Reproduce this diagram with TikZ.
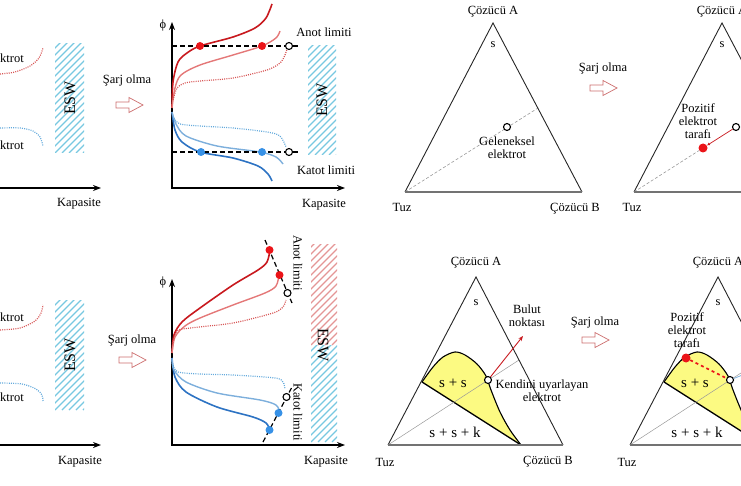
\documentclass[tikz,border=0pt]{standalone}
\usepackage{fontspec}
\setmainfont{Liberation Serif}
\usetikzlibrary{arrows.meta, positioning}

\definecolor{darkred}{RGB}{200,25,30}
\definecolor{lightred}{RGB}{228,120,120}
\definecolor{dotred}{RGB}{215,85,85}
\definecolor{darkblue}{RGB}{45,115,195}
\definecolor{lightblue}{RGB}{125,175,220}
\definecolor{dotblue}{RGB}{100,170,220}
\definecolor{hatchblue}{RGB}{120,200,225}
\definecolor{hatchred}{RGB}{228,150,150}
\definecolor{fillyellow}{RGB}{252,250,130}
\definecolor{markred}{RGB}{235,20,25}
\definecolor{markblue}{RGB}{55,145,230}
\definecolor{arrowred}{RGB}{205,110,110}

% hatched window: colour, x0, y0, x1, y1
\newcommand{\hatchbox}[5]{%
  \begin{scope}
    \clip (#2,#3) rectangle (#4,#5);
    \foreach \k in {0,7,...,420}
      \draw[#1, line width=1.1pt] (#2-210+\k,#5) -- ++(250,-250);
  \end{scope}}

\tikzset{
  lbl/.style={font=\fontsize{12.5}{13}\selectfont, inner sep=1pt, align=center},
  big/.style={font=\fontsize{15}{17}\selectfont, inner sep=1pt},
  eswlbl/.style={font=\fontsize{16}{18}\selectfont, inner sep=1pt},
  axis/.style={line width=1.6pt},
  limitline/.style={line width=1.2pt, dash pattern=on 5pt off 3pt},
  curvedark/.style={line width=1.6pt},
  curvelight/.style={line width=1.4pt},
  curvedot/.style={line width=1.2pt, dash pattern=on 1pt off 1.2pt},
  fullmark/.style={circle, minimum size=8pt, inner sep=0pt},
  openmark/.style={circle, draw, line width=1.1pt, fill=white, minimum size=7pt, inner sep=0pt},
  triside/.style={line width=0.9pt, draw=black!85},
  tribase/.style={line width=1.5pt, draw=black!55},
  mixline/.style={gray!80, line width=0.6pt, dash pattern=on 3pt off 2pt},
  sarjarrow/.pic={\draw[arrowred, line width=0.7pt, fill=white]
    (-13,-3) -- (0,-3) -- (0,-7.5) -- (14,0) -- (0,7.5) -- (0,3) -- (-13,3) -- cycle;}
}

\begin{document}
\begin{tikzpicture}[x=1pt, y=-1pt]
\useasboundingbox (0,0) rectangle (741,486);
\clip (0,0) rectangle (741,486);

% ---- upper row, potential curves ----
\draw[dotred, curvedot] plot[smooth] coordinates {(0,74) (15,72) (30,66) (39,58) (43,48)};
\draw[dotblue, curvedot] plot[smooth] coordinates {(0,128) (20,128) (33,131) (40,137) (43,146)};
\node[lbl, anchor=west] (elekA) at (-1,58) {ktrot};
\node[lbl, anchor=west] (elekB) at (-1,145) {ktrot};
\hatchbox{hatchblue}{55}{44}{84}{153}
\node[eswlbl, rotate=90] (eswA) at (70,98) {ESW};
\draw[axis, -{Stealth[length=8pt,width=6pt]}] (0,188) -- (101,188);
\node[lbl] (kapA) at (79,204) {Kapasite};

\node[lbl] (sarjA) at (127,80) {Şarj olma};
\pic at (129,105) {sarjarrow};

\draw[axis, {Stealth[length=8pt,width=6pt]}-{Stealth[length=8pt,width=6pt]}] (172,22) |- (345,188);
\node[lbl] (phiA) at (163,25) {\symbol{"03D5}};
\node[lbl] (kapB) at (324,205) {Kapasite};

\draw[darkred, curvedark] plot[smooth] coordinates {(172,108) (173,82) (178,62) (187,53) (200,46) (233,37) (255,28) (266,18) (272,4)};
\draw[lightred, curvelight] plot[smooth] coordinates {(172,108) (175,88) (181,75) (200,65) (233,55) (262,46) (276,38) (280,31)};
\draw[dotred, curvedot] plot[smooth] coordinates {(173,100) (177,88) (185,83) (200,81) (233,78) (267,70) (280,63) (285,55) (287,49)};
\draw[darkblue, curvedark] plot[smooth] coordinates {(172,112) (175,130) (182,142) (200,152) (233,158) (258,166) (268,174) (272,181)};
\draw[lightblue, curvelight] plot[smooth] coordinates {(172,112) (176,124) (186,136) (217,146) (260,152) (276,157) (283,164)};
\draw[dotblue, curvedot] plot[smooth] coordinates {(174,118) (180,124) (200,126) (233,128) (267,132) (280,136) (286,147)};

\coordinate (anotL) at (172,46);
\coordinate (katotL) at (172,152);
\node[openmark] (anotO) at (289,46) {};
\node[openmark] (katotO) at (289,152) {};
\draw[limitline] (anotL) -- (anotO) -- +(12,0);
\draw[limitline] (katotL) -- (katotO) -- +(12,0);
\node[fullmark, fill=markred] (anotR1) at (200,46) {};
\node[fullmark, fill=markred] (anotR2) at (262,46) {};
\node[fullmark, fill=markblue] (katotB1) at (201,152) {};
\node[fullmark, fill=markblue] (katotB2) at (262,152) {};
\node[lbl] (anotT) at (324,32) {Anot limiti};
\node[lbl] (katotT) at (326,170) {Katot limiti};
\hatchbox{hatchblue}{308}{46}{336}{155}
\node[eswlbl, rotate=90] (eswB) at (322,100) {ESW};

% ---- lower row, potential curves ----
\draw[dotred, curvedot] plot[smooth] coordinates {(0,330) (20,328) (35,321) (41,313) (43,305)};
\draw[dotblue, curvedot] plot[smooth] coordinates {(0,383) (22,384) (36,389) (42,395) (43,401)};
\node[lbl, anchor=west] (elekC) at (-1,317) {ktrot};
\node[lbl, anchor=west] (elekD) at (-1,397) {ktrot};
\hatchbox{hatchblue}{55}{300}{84}{410}
\node[eswlbl, rotate=90] (eswC) at (70,355) {ESW};
\draw[axis, -{Stealth[length=8pt,width=6pt]}] (0,445) -- (101,445);
\node[lbl] (kapC) at (80,462) {Kapasite};

\node[lbl] (sarjB) at (132,340) {Şarj olma};
\pic at (132,360) {sarjarrow};

\draw[axis, {Stealth[length=8pt,width=6pt]}-{Stealth[length=8pt,width=6pt]}] (172,279) |- (345,445);
\node[lbl] (phiB) at (163,282) {\symbol{"03D5}};
\node[lbl] (kapD) at (326,462) {Kapasite};

\draw[darkred, curvedark] plot[smooth] coordinates {(172,353) (174,335) (182,322) (200,308) (233,285) (258,270) (267,262) (270,250)};
\draw[lightred, curvelight] plot[smooth] coordinates {(172,353) (175,337) (185,326) (200,318) (233,305) (265,293) (276,286) (279,275)};
\draw[dotred, curvedot] plot[smooth] coordinates {(173,343) (177,331) (190,328) (233,323) (273,313) (283,307) (286,300)};
\draw[darkblue, curvedark] plot[smooth] coordinates {(172,358) (175,377) (186,392) (217,407) (253,417) (266,423) (270,430)};
\draw[lightblue, curvelight] plot[smooth] coordinates {(172,358) (174,370) (186,382) (217,393) (260,400) (276,405) (280,413)};
\draw[dotblue, curvedot] plot[smooth] coordinates {(173,365) (178,372) (200,374) (233,375) (275,378) (283,382) (285,389)};

\coordinate (anotS) at (265,240);
\coordinate (anotE) at (292,303);
\coordinate (katotS) at (263,442);
\coordinate (katotE) at (292,387);
\draw[limitline] (anotS) -- (anotE);
\draw[limitline] (katotS) -- (katotE);
\node[fullmark, fill=markred] (anotR3) at (269.5,250) {};
\node[fullmark, fill=markred] (anotR4) at (279.5,275) {};
\node[openmark] (anotO2) at (287.5,293) {};
\node[fullmark, fill=markblue] (katotB3) at (269.5,430) {};
\node[fullmark, fill=markblue] (katotB4) at (278.5,413) {};
\node[openmark] (katotO2) at (286.5,397) {};
\node[lbl, rotate=-90] (anotT2) at (298,263) {Anot limiti};
\node[lbl, rotate=-90] (katotT2) at (298,412) {Katot limiti};
\hatchbox{hatchred}{311}{245}{337}{345}
\hatchbox{hatchblue}{311}{345}{337}{442}
\node[eswlbl, rotate=-90] (eswD) at (323,345) {ESW};

% ---- upper row, ternary diagrams ----
\coordinate (apexA) at (493,23);
\coordinate (tuzA) at (405,192);
\coordinate (cozA) at (582,192);
\coordinate (edgeA) at (538,108);
\draw[mixline] (tuzA) -- (edgeA);
\draw[triside] (tuzA) -- (apexA) -- (cozA);
\draw[tribase] (tuzA) -- (cozA);
\node[openmark] (ocircA) at (507,127) {};
\node[lbl] (topA) at (493,12) {Çözücü A};
\node[lbl] (sA) at (493,45) {s};
\node[lbl] (tuzTA) at (402,207) {Tuz};
\node[lbl] (cozTA) at (575,209) {Çözücü B};
\node[lbl] (gelen) at (507,148) {Geleneksel\\elektrot};

\node[lbl] (sarjC) at (603,68) {Şarj olma};
\pic at (603,88) {sarjarrow};

\coordinate (apexB) at (722,23);
\coordinate (tuzB) at (634,192);
\coordinate (cozB) at (811,192);
\node[fullmark, fill=markred, minimum size=9pt] (rdotB) at (703,148) {};
\draw[mixline] (tuzB) -- (rdotB);
\draw[triside] (tuzB) -- (apexB) -- (cozB);
\draw[tribase] (tuzB) -- (cozB);
\node[openmark] (ocircB) at (736,127) {};
\draw[darkred, line width=0.7pt, -{Latex[length=3pt,width=3pt]}] (ocircB) -- (rdotB);
\node[lbl] (topB) at (722,12) {Çözücü A};
\node[lbl] (sB) at (722,45) {s};
\node[lbl] (tuzTB) at (632,207) {Tuz};
\node[lbl] (pozA) at (698,121) {Pozitif\\elektrot\\tarafı};

% ---- lower row, ternary diagrams ----
\coordinate (apexC) at (476,277);
\coordinate (tuzC) at (388,445);
\coordinate (cozC) at (563,445);
\coordinate (edgeC) at (519,360);
\coordinate (bulut) at (523,336);
\begin{scope}
  \fill[fillyellow] plot[smooth] coordinates {(422,382) (433,367) (443,357) (455,352) (465,355) (477,364) (486,376) (491,390) (500,412) (510,430) (521,445)} -- cycle;
  \draw[line width=1.1pt] plot[smooth] coordinates {(422,382) (433,367) (443,357) (455,352) (465,355) (477,364) (486,376) (491,390) (500,412) (510,430) (521,445)};
  \draw[line width=1.3pt] (422,382) -- (521,445);
\end{scope}
\draw[gray!80, line width=0.5pt] (tuzC) -- (edgeC);
\draw[triside] (tuzC) -- (apexC) -- (cozC);
\draw[tribase] (tuzC) -- (cozC);
\node[openmark] (ocircC) at (488,380) {};
\draw[darkred, line width=0.9pt, -{Stealth[length=5pt,width=4pt]}] (ocircC) -- (bulut);
\node[lbl] (topC) at (476,263) {Çözücü A};
\node[lbl] (sC) at (476,303) {s};
\node[lbl] (tuzTC) at (385,462) {Tuz};
\node[lbl] (cozTC) at (548,462) {Çözücü B};
\node[lbl] (bulutT) at (527,316) {Bulut\\noktası};
\node[lbl] (kendi) at (542,391) {Kendini uyarlayan\\elektrot};
\node[big] (ssC) at (453,383) {s + s};
\node[big] (sskC) at (455,432) {s + s + k};

\node[lbl] (sarjD) at (595,322) {Şarj olma};
\pic at (595,340) {sarjarrow};

\coordinate (apexD) at (718,277);
\coordinate (tuzD) at (630,445);
\coordinate (cozD) at (805,445);
\coordinate (edgeD) at (761,360);
\coordinate (bulutD) at (750,372);
\begin{scope}[shift={(242,0)}]
  \fill[fillyellow] plot[smooth] coordinates {(422,382) (433,367) (443,357) (455,352) (465,355) (477,364) (486,376) (491,390) (500,412) (510,430) (521,445)} -- cycle;
  \draw[line width=1.1pt] plot[smooth] coordinates {(422,382) (433,367) (443,357) (455,352) (465,355) (477,364) (486,376) (491,390) (500,412) (510,430) (521,445)};
  \draw[line width=1.3pt] (422,382) -- (521,445);
\end{scope}
\draw[gray!80, line width=0.5pt] (tuzD) -- (edgeD);
\draw[triside] (tuzD) -- (apexD) -- (cozD);
\draw[tribase] (tuzD) -- (cozD);
\node[openmark] (ocircD) at (730,380) {};
\node[fullmark, fill=markred, minimum size=9pt] (rdotD) at (686,358) {};
\draw[markred, line width=1.6pt, dash pattern=on 3pt off 3pt] (rdotD) -- (ocircD);
\draw[lightblue, line width=0.8pt] (ocircD) -- (bulutD);
\node[lbl] (topD) at (718,263) {Çözücü A};
\node[lbl] (sD) at (718,303) {s};
\node[lbl] (tuzTD) at (627,462) {Tuz};
\node[lbl] (pozB) at (687,330) {Pozitif\\elektrot\\tarafı};
\node[big] (ssD) at (695,383) {s + s};
\node[big] (sskD) at (697,432) {s + s + k};
\end{tikzpicture}
\end{document}
